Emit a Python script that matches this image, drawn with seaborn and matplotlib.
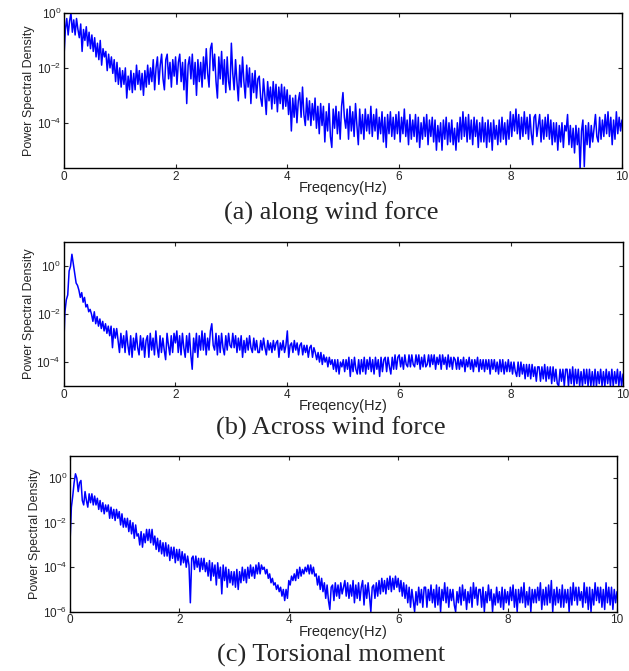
import numpy as np
import pandas as pd
import seaborn as sns
import matplotlib.pyplot as plt
from matplotlib.ticker import LogLocator, LogFormatterSciNotation, NullLocator

# frequency grid (Hz), 0 to 10 every 0.025
freq = np.round(np.arange(401) * 0.025, 3)

# log10 of the PSD values, one row = 0.5 Hz
along_log = [
    -1.6, -0.6, -0.2, -0.8, -0.3, 0.0, -0.7, -0.25, -0.8, -0.2, -0.6, -0.9, -0.4, -1.4, -0.6, -1.0, -0.5, -1.2, -0.7, -1.3,
    -0.8, -1.4, -0.9, -1.6, -1.1, -1.7, -1.0, -1.9, -1.3, -1.6, -1.4, -2.1, -1.5, -2.0, -1.6, -2.2, -1.7, -2.5, -1.8, -2.6,
    -2.0, -2.7, -2.1, -2.6, -2.0, -3.1, -2.3, -2.8, -2.1, -2.9, -2.2, -2.8, -1.9, -2.6, -2.1, -2.8, -2.2, -3.0, -2.1, -2.7,
    -1.9, -2.6, -2.0, -2.5, -1.7, -2.8, -2.0, -1.6, -2.6, -1.9, -1.5, -2.4, -2.8, -1.7, -1.5, -2.4, -1.8, -2.7, -1.7, -2.3,
    -1.6, -2.6, -1.8, -1.5, -2.5, -1.8, -2.8, -1.7, -3.3, -1.9, -1.6, -2.4, -1.5, -2.6, -1.8, -3.0, -1.7, -2.5, -1.8, -2.7,
    -1.6, -2.4, -1.3, -2.2, -2.7, -1.3, -1.1, -2.1, -1.5, -2.5, -3.1, -1.6, -2.4, -1.4, -2.6, -1.7, -2.9, -1.6, -2.5, -2.8,
    -1.1, -2.2, -2.8, -1.7, -2.5, -3.2, -1.9, -2.7, -1.6, -2.5, -3.1, -1.9, -2.7, -2.0, -3.3, -2.2, -2.9, -2.1, -3.1, -2.4,
    -2.3, -3.1, -3.4, -2.4, -3.0, -3.7, -2.5, -3.2, -2.7, -3.5, -2.5, -3.3, -2.6, -3.6, -2.7, -3.3, -2.6, -3.5, -2.7, -3.4,
    -2.8, -3.7, -3.0, -4.3, -3.1, -3.8, -3.0, -4.0, -3.2, -2.9, -3.8, -2.7, -3.7, -4.1, -3.1, -3.9, -3.2, -4.1, -3.3, -3.9,
    -3.1, -4.2, -3.4, -4.4, -3.3, -4.1, -3.4, -4.7, -3.6, -4.3, -3.3, -4.5, -4.9, -3.5, -4.2, -3.4, -4.4, -3.6, -4.6, -3.4,
    -2.9, -3.8, -4.2, -3.5, -4.6, -3.4, -4.3, -3.6, -4.5, -3.3, -4.1, -4.8, -3.5, -4.4, -3.7, -4.6, -3.5, -4.3, -3.7, -4.4,
    -3.4, -4.5, -3.7, -4.3, -3.5, -4.6, -3.8, -4.4, -3.6, -4.7, -3.8, -4.9, -3.7, -4.4, -3.6, -4.5, -3.8, -4.6, -3.7, -4.4,
    -3.6, -4.7, -3.8, -4.4, -3.5, -4.5, -3.9, -4.8, -3.7, -4.6, -3.9, -4.5, -3.7, -4.7, -3.8, -4.9, -4.0, -4.6, -3.8, -4.5,
    -3.7, -4.8, -3.9, -4.5, -3.8, -4.7, -3.9, -5.0, -4.1, -4.7, -4.0, -5.0, -3.9, -4.6, -3.8, -4.8, -4.0, -4.7, -3.9, -4.8,
    -4.2, -5.0, -4.0, -4.7, -3.8, -4.6, -3.6, -4.5, -3.8, -4.7, -3.7, -4.6, -3.9, -4.8, -3.8, -4.5, -3.9, -4.9, -4.0, -4.7,
    -3.8, -4.7, -4.0, -4.9, -3.9, -4.7, -4.0, -5.0, -3.9, -4.6, -4.1, -4.8, -3.9, -4.7, -3.8, -4.6, -4.0, -4.8, -3.9, -4.6,
    -3.6, -4.5, -3.7, -4.3, -3.5, -4.4, -3.7, -4.6, -3.8, -4.5, -3.6, -4.4, -3.8, -4.6, -3.7, -4.4, -4.8, -3.8, -3.7, -4.5,
    -4.1, -3.7, -4.7, -3.9, -4.6, -3.8, -4.5, -3.7, -4.6, -3.9, -4.8, -4.0, -4.7, -4.0, -5.0, -4.1, -4.7, -4.0, -4.9, -4.1,
    -4.3, -3.7, -4.8, -4.1, -4.9, -4.2, -5.1, -4.1, -4.8, -4.2, -5.7, -4.3, -3.9, -5.6, -4.1, -4.8, -4.0, -4.9, -4.1, -4.7,
    -4.2, -3.7, -4.5, -4.7, -3.8, -4.6, -3.9, -4.5, -3.7, -4.4, -3.6, -4.5, -3.8, -4.8, -3.9, -4.6, -3.6, -4.4, -3.8, -4.3,
    -3.9,
]

across_log = [
    -3.6, -1.9, -1.4, -1.2, -0.2, 0.0, 0.5, 0.1, -0.3, -0.7, -0.8, -1.0, -1.3, -1.1, -1.5, -1.3, -1.7, -1.6, -1.9, -1.8,
    -2.0, -2.3, -1.9, -2.4, -2.1, -2.5, -2.2, -2.6, -2.3, -2.7, -2.4, -2.8, -2.5, -2.9, -2.5, -3.4, -2.6, -3.0, -2.6, -3.1,
    -3.6, -2.8, -3.4, -2.9, -3.6, -2.7, -3.3, -3.7, -2.9, -3.8, -3.0, -3.5, -2.8, -3.4, -3.7, -2.9, -3.5, -3.0, -3.8, -3.1,
    -2.9, -3.8, -2.8, -3.5, -3.0, -3.7, -2.7, -3.4, -3.8, -2.9, -3.6, -3.0, -3.5, -3.9, -2.8, -3.3, -3.7, -2.9, -3.6, -2.8,
    -3.2, -2.7, -3.6, -2.9, -3.7, -2.8, -3.4, -3.8, -2.9, -3.6, -2.8, -3.7, -4.3, -3.0, -3.6, -2.8, -3.8, -2.9, -3.5, -2.7,
    -3.5, -2.8, -3.7, -3.0, -3.5, -2.7, -2.4, -3.3, -3.5, -2.8, -3.7, -2.9, -3.6, -2.8, -3.4, -3.7, -2.9, -3.5, -2.8, -3.3,
    -3.4, -2.8, -3.4, -2.9, -3.6, -3.0, -3.5, -2.9, -3.8, -3.1, -3.6, -3.0, -3.5, -2.9, -3.4, -3.6, -3.0, -3.5, -3.1, -3.6,
    -3.6, -3.1, -3.5, -3.0, -3.4, -3.7, -3.1, -3.5, -3.2, -3.6, -3.1, -3.5, -3.2, -3.1, -3.8, -3.2, -3.5, -3.1, -3.6, -3.3,
    -2.7, -3.8, -3.3, -3.2, -3.6, -3.1, -3.5, -3.2, -3.7, -3.3, -3.2, -3.7, -3.3, -3.6, -3.3, -3.8, -3.4, -3.3, -3.8, -3.4,
    -3.6, -3.9, -3.6, -4.0, -3.6, -4.1, -3.7, -4.0, -3.8, -4.2, -3.8, -4.1, -3.9, -4.3, -3.9, -4.4, -3.9, -4.5, -4.0, -4.2,
    -3.9, -4.4, -3.9, -4.3, -3.8, -4.6, -3.9, -4.4, -3.8, -4.3, -4.5, -3.9, -4.5, -3.9, -4.4, -3.8, -4.5, -3.9, -4.3, -3.8,
    -4.4, -3.9, -4.5, -3.8, -4.3, -3.9, -4.6, -3.8, -4.4, -3.9, -3.8, -4.4, -3.8, -4.2, -4.5, -3.8, -4.3, -3.7, -4.3, -3.8,
    -3.7, -4.2, -3.8, -4.3, -3.7, -4.1, -4.2, -3.7, -4.2, -3.7, -4.1, -4.2, -3.7, -4.1, -3.7, -4.3, -3.8, -4.2, -3.7, -4.2,
    -4.1, -3.7, -4.2, -3.7, -4.1, -3.7, -4.3, -3.8, -4.1, -3.7, -4.3, -3.7, -4.1, -3.8, -4.3, -3.7, -4.2, -3.8, -4.3, -3.8,
    -3.9, -4.3, -3.8, -4.3, -3.9, -4.2, -3.8, -4.4, -3.9, -4.2, -3.8, -4.3, -3.9, -4.4, -3.9, -4.2, -3.8, -4.4, -3.9, -4.3,
    -3.9, -4.4, -3.9, -4.3, -3.9, -4.5, -3.9, -4.3, -3.9, -4.4, -4.0, -4.5, -3.9, -4.4, -3.9, -4.5, -4.0, -4.4, -3.9, -4.4,
    -4.0, -4.5, -4.0, -4.4, -4.6, -4.0, -4.6, -4.0, -4.5, -4.1, -4.7, -4.1, -4.6, -4.1, -4.7, -4.1, -4.6, -4.2, -4.8, -4.2,
    -4.2, -4.8, -4.2, -4.7, -4.1, -4.8, -4.2, -4.7, -4.2, -4.9, -4.2, -4.8, -4.3, -4.9, -5.0, -4.3, -4.8, -4.3, -5.0, -4.3,
    -4.3, -5.0, -4.3, -4.9, -4.2, -5.0, -4.3, -4.9, -4.3, -5.0, -4.4, -5.0, -4.3, -4.9, -4.3, -5.0, -4.3, -5.0, -4.4, -5.0,
    -4.3, -5.0, -4.4, -4.9, -4.3, -5.0, -4.4, -5.0, -4.3, -4.9, -4.4, -5.0, -4.3, -5.0, -4.4, -4.9, -4.3, -5.0, -4.4, -5.0,
    -4.5,
]

torsion_log = [
    -2.9, -1.3, -0.8, -0.2, 0.2, 0.0, -0.6, -0.2, -0.1, -1.0, -1.2, -0.6, -1.0, -1.3, -0.7, -1.1, -0.7, -1.2, -0.8, -1.2,
    -0.9, -1.4, -1.0, -1.5, -1.1, -1.6, -1.2, -1.5, -1.2, -1.8, -1.3, -1.8, -1.4, -1.9, -1.4, -1.8, -1.5, -2.1, -1.6, -2.2,
    -1.8, -2.2, -1.8, -2.4, -1.9, -2.5, -2.0, -2.7, -2.1, -2.6, -2.5, -3.0, -2.4, -3.1, -2.5, -2.9, -2.3, -2.8, -2.3, -2.9,
    -2.3, -3.0, -2.6, -3.2, -2.7, -3.3, -2.8, -3.4, -2.9, -3.5, -2.9, -3.5, -3.0, -3.7, -3.1, -3.6, -3.1, -3.8, -3.2, -3.7,
    -3.2, -3.9, -3.3, -3.8, -3.4, -4.0, -3.5, -3.9, -5.6, -3.6, -3.5, -4.1, -3.5, -4.0, -3.6, -4.2, -3.6, -4.1, -3.6, -4.2,
    -3.8, -4.4, -3.7, -4.6, -3.8, -4.4, -3.9, -4.8, -3.8, -4.5, -4.0, -5.2, -3.9, -4.6, -4.0, -4.9, -4.1, -4.7, -4.2, -4.8,
    -4.2, -4.9, -4.1, -5.0, -4.2, -4.7, -4.0, -4.6, -4.1, -4.7, -4.0, -4.5, -3.9, -4.4, -4.0, -4.5, -3.9, -4.3, -3.8, -4.3,
    -3.9, -4.1, -4.0, -4.3, -4.1, -4.5, -4.3, -4.7, -4.5, -4.8, -4.7, -5.0, -4.8, -5.1, -4.9, -5.3, -5.0, -5.5, -5.0, -5.4,
    -4.6, -4.8, -4.4, -4.6, -4.3, -4.6, -4.1, -4.5, -4.0, -4.4, -4.1, -4.3, -4.0, -4.2, -3.9, -4.3, -3.9, -4.3, -4.0, -4.4,
    -4.3, -4.8, -4.4, -5.0, -4.5, -5.1, -4.7, -5.4, -4.8, -5.5, -5.9, -4.9, -4.8, -5.5, -4.7, -5.3, -4.8, -5.4, -4.7, -5.2,
    -4.9, -4.6, -5.3, -4.7, -5.4, -4.8, -5.3, -4.6, -5.6, -4.8, -5.4, -4.7, -5.5, -4.9, -4.6, -5.7, -4.8, -5.4, -4.7, -5.3,
    -6.0, -4.9, -4.8, -5.4, -4.7, -5.3, -4.6, -5.2, -4.5, -5.1, -4.6, -5.2, -4.5, -5.0, -4.4, -5.1, -4.5, -5.0, -4.4, -4.9,
    -4.5, -5.1, -4.6, -5.3, -4.7, -5.4, -4.8, -5.6, -4.9, -5.8, -5.0, -5.5, -6.0, -5.1, -5.7, -4.9, -5.6, -5.0, -5.8, -4.9,
    -4.9, -5.8, -5.0, -5.5, -4.8, -5.6, -5.0, -5.8, -4.8, -5.7, -4.9, -6.0, -5.0, -5.5, -4.7, -5.6, -4.9, -5.8, -5.0, -5.5,
    -5.0, -5.7, -6.0, -5.1, -5.6, -4.9, -5.7, -4.8, -5.5, -5.0, -5.9, -5.1, -5.6, -4.9, -5.8, -4.7, -5.4, -4.9, -5.7, -5.0,
    -5.0, -5.8, -4.9, -6.0, -5.1, -5.6, -4.8, -5.5, -5.0, -6.0, -5.2, -5.7, -4.9, -5.6, -5.1, -5.8, -4.9, -5.9, -5.0, -5.6,
    -5.1, -5.7, -4.9, -5.5, -4.8, -5.8, -5.0, -6.0, -5.0, -5.6, -4.9, -5.6, -4.7, -5.8, -5.1, -5.7, -4.9, -6.0, -5.0, -5.6,
    -5.0, -5.6, -4.9, -5.5, -4.7, -5.9, -5.0, -5.7, -4.9, -5.7, -4.8, -5.6, -4.6, -6.0, -5.0, -5.7, -4.9, -5.6, -5.0, -5.8,
    -4.8, -5.8, -5.0, -5.6, -5.0, -6.0, -4.9, -5.7, -4.7, -5.5, -4.9, -5.7, -4.9, -5.5, -5.1, -5.8, -4.7, -5.6, -4.9, -5.9,
    -4.9, -6.0, -5.0, -5.7, -4.7, -5.5, -4.9, -5.6, -4.9, -5.8, -5.0, -5.9, -4.7, -5.6, -4.9, -5.7, -4.9, -5.9, -5.0, -5.6,
    -5.1,
]

captions = ["(a) along wind force", "(b) Across wind force", "(c) Torsional moment"]
ylims = [(10 ** -5.65, 10 ** 0.0), (1e-5, 1e1), (1e-6, 1e1)]

for s in (along_log, across_log, torsion_log):
    assert len(s) == len(freq)

sns.set_style("ticks")
plt.rcParams['font.family'] = ['Liberation Sans', 'DejaVu Sans']
plt.rcParams['mathtext.fontset'] = 'custom'
plt.rcParams['mathtext.rm'] = 'Liberation Sans'
plt.rcParams['mathtext.it'] = 'Liberation Sans:italic'

fig = plt.figure(figsize=(6.29, 6.71), dpi=100)
boxes = [
    [0.1017, 0.7496, 0.8871, 0.2310],
    [0.1010, 0.4247, 0.8895, 0.2142],
    [0.1113, 0.0884, 0.8696, 0.2320],
]
caption_y = [0.6826, 0.3621, 0.0238]

for i, series in enumerate([along_log, across_log, torsion_log]):
    ax = fig.add_axes(boxes[i])
    df = pd.DataFrame({"freq": freq, "psd": 10.0 ** np.array(series)})
    sns.lineplot(data=df, x="freq", y="psd", ax=ax, color="#0000ff",
                 linewidth=1.1, estimator=None, sort=False)
    ax.set_yscale("log")
    ax.set_xlim(0, 10)
    ax.set_ylim(*ylims[i])
    ax.set_xticks([0, 2, 4, 6, 8, 10])
    ax.yaxis.set_major_locator(LogLocator(base=100.0))
    ax.yaxis.set_major_formatter(LogFormatterSciNotation(base=10.0))
    ax.yaxis.set_minor_locator(NullLocator())
    ax.tick_params(direction="in", top=True, right=True, length=3,
                   width=0.8, labelsize=8.5, pad=2)
    for sp in ax.spines.values():
        sp.set_linewidth(1.0)
        sp.set_color("black")
    ax.set_xlabel("Freqency(Hz)", fontsize=10.5, labelpad=-1)
    ax.set_ylabel("Power Spectral Density", fontsize=9, labelpad=1)
    fig.text(0.526, caption_y[i], captions[i], ha="center", va="center",
             fontsize=19, family="Liberation Serif")

plt.savefig("out.png", dpi=100)
